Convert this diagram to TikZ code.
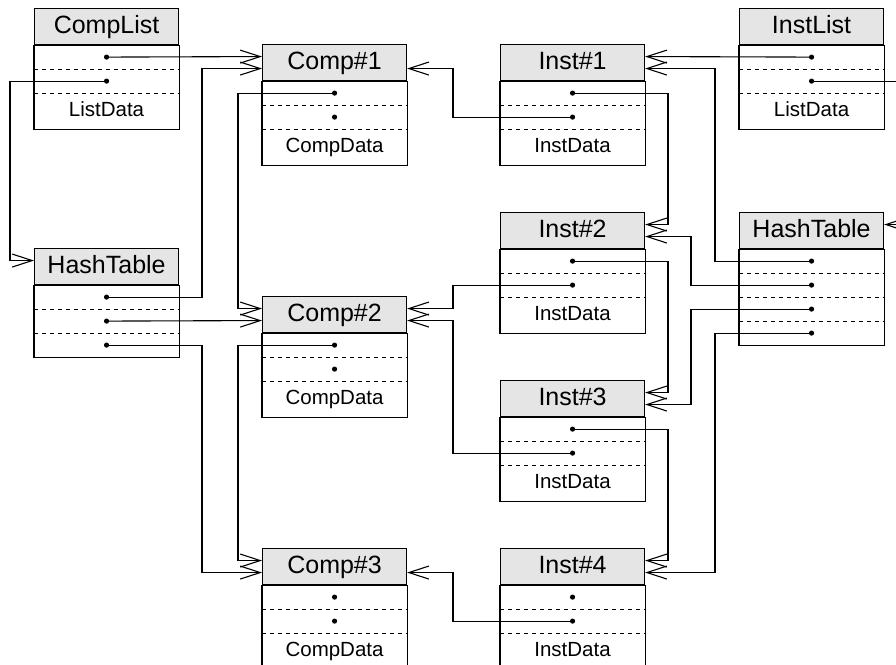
\documentclass[tikz,border=0pt]{standalone}
\usepackage{fontspec}
\setmainfont{Liberation Sans}
\usetikzlibrary{arrows.meta}

\tikzset{
  lw/.style={line width=1.1pt},
  hdr/.style={lw, draw, fill=black!10, anchor=north west, inner sep=0pt,
    minimum width=144pt, minimum height=36pt, text height=18pt, text depth=5pt,
    font=\fontsize{25}{30}\selectfont},
  frame/.style={lw, draw},
  sep/.style={line width=0.9pt, dash pattern=on 4pt off 4pt},
  datatext/.style={inner sep=0pt, text height=15.5pt, text depth=4pt,
    font=\fontsize{20.5}{24}\selectfont},
  ptr/.style={lw, -{Straight Barb[length=20pt, width=13pt, line width=1.1pt]}},
}

% #1 name, #2 x, #3 y, #4 title, #5 pointer rows, #6 data row height, #7 data text
\newcommand\record[7]{%
  \node[hdr] (#1) at (#2,#3) {#4};
  \draw[frame] (#1.south west) rectangle ([yshift={-(#5*24+#6)*1pt}]#1.south east);
  \foreach \k in {2,...,#5}{
    \draw[sep] ([yshift={-(\k-1)*24pt}]#1.south west) -- ([yshift={-(\k-1)*24pt}]#1.south east);
  }
  \foreach \k in {1,...,#5}{
    \coordinate (#1-\k) at ([yshift={-(\k-0.5)*24pt}]#1.south);
    \fill (#1-\k) circle[radius=2.6pt];
  }
  \ifnum#6>0
    \draw[sep] ([yshift={-#5*24pt}]#1.south west) -- ([yshift={-#5*24pt}]#1.south east);
    \node[datatext] (#1-d) at ([yshift={-(#5*24+18)*1pt}]#1.south) {#7};
  \fi
}

\begin{document}
\begin{tikzpicture}[x=1pt, y=-1pt]
  \useasboundingbox (0,0) rectangle (896,664);
  \clip (0,0) rectangle (896,664);

  % list heads
  \record{cl}{34}{8}{CompList}{2}{36}{ListData}
  \record{il}{739}{8}{InstList}{2}{36}{ListData}
  % hash tables
  \record{htl}{34}{248}{HashTable}{3}{0}{}
  \record{htr}{739}{212}{HashTable}{4}{0}{}
  % components
  \record{c1}{262}{44}{Comp\#1}{2}{36}{CompData}
  \record{c2}{262}{296}{Comp\#2}{2}{36}{CompData}
  \record{c3}{262}{548}{Comp\#3}{2}{36}{CompData}
  % instances
  \record{i1}{500}{44}{Inst\#1}{2}{36}{InstData}
  \record{i2}{500}{212}{Inst\#2}{2}{36}{InstData}
  \record{i3}{500}{380}{Inst\#3}{2}{36}{InstData}
  \record{i4}{500}{548}{Inst\#4}{2}{36}{InstData}

  % vertical routing lanes
  \coordinate (lnA) at (10,0);
  \coordinate (lnB) at (202,0);
  \coordinate (lnC) at (238,0);
  \coordinate (lnD) at (453,0);
  \coordinate (lnE) at (668,0);
  \coordinate (lnF) at (691,0);
  \coordinate (lnG) at (715,0);
  \coordinate (lnH) at (912,0);

  % component pointers
  \draw[ptr] (cl-1) -- ([yshift=6pt]c1.west);
  \draw[ptr] (cl-2) -- (cl-2 -| lnA) |- ([yshift=6pt]htl.west);
  \draw[ptr] (htl-1) -- (htl-1 -| lnB) |- ([yshift=-6pt]c1.west);
  \draw[ptr] (htl-2) -- ([yshift=-6pt]c2.west);
  \draw[ptr] (htl-3) -- (htl-3 -| lnB) |- ([yshift=-6pt]c3.west);
  \draw[ptr] (c1-1) -- (c1-1 -| lnC) |- ([yshift=6pt]c2.west);
  \draw[ptr] (c2-1) -- (c2-1 -| lnC) |- ([yshift=6pt]c3.west);

  % instance to component
  \draw[ptr] (i1-2) -- (i1-2 -| lnD) |- ([yshift=-6pt]c1.east);
  \draw[ptr] (i2-2) -- (i2-2 -| lnD) |- ([yshift=6pt]c2.east);
  \draw[ptr] (i3-2) -- (i3-2 -| lnD) |- ([yshift=-6pt]c2.east);
  \draw[ptr] (i4-2) -- (i4-2 -| lnD) |- ([yshift=-6pt]c3.east);

  % instance chain
  \draw[ptr] (i1-1) -- (i1-1 -| lnE) |- ([yshift=6pt]i2.east);
  \draw[ptr] (i2-1) -- (i2-1 -| lnE) |- ([yshift=6pt]i3.east);
  \draw[ptr] (i3-1) -- (i3-1 -| lnE) |- ([yshift=6pt]i4.east);

  % instance list and hash table
  \draw[ptr] (il-1) -- ([yshift=6pt]i1.east);
  \draw[ptr] (il-2) -- (il-2 -| lnH) |- ([yshift=6pt]htr.east);
  \draw[ptr] (htr-1) -- (htr-1 -| lnG) |- ([yshift=-6pt]i1.east);
  \draw[ptr] (htr-2) -- (htr-2 -| lnF) |- ([yshift=-6pt]i2.east);
  \draw[ptr] (htr-3) -- (htr-3 -| lnF) |- ([yshift=-6pt]i3.east);
  \draw[ptr] (htr-4) -- (htr-4 -| lnG) |- ([yshift=-6pt]i4.east);
\end{tikzpicture}
\end{document}
